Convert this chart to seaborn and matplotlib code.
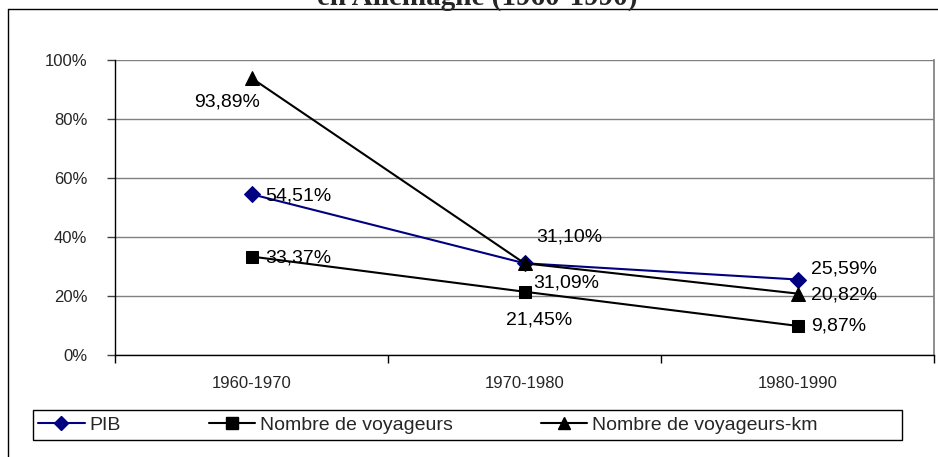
import matplotlib
matplotlib.use("Agg")
import matplotlib.pyplot as plt
from matplotlib.lines import Line2D
from matplotlib.patches import Rectangle
from matplotlib.ticker import FixedLocator, PercentFormatter
import numpy as np
import pandas as pd
import seaborn as sns

# data
periodes = ["1960-1970", "1970-1980", "1980-1990"]
series = ["PIB", "Nombre de voyageurs", "Nombre de voyageurs-km"]
pib = [54.51, 31.10, 25.59]
voyageurs = [33.37, 21.45, 9.87]
voyageurs_km = [93.89, 31.09, 20.82]
titre = "en Allemagne (1960-1990)"

# label offsets in pixels (dx, dy) for each point
offsets = {
    "PIB": [(14, -2), (12, 26), (14, 11)],
    "Nombre de voyageurs": [(14, -1), (15, -28), (14, 0)],
    "Nombre de voyageurs-km": [(-24, -24), (9, -20), (14, -1)],
}
label_ha = {
    "PIB": ["left", "left", "left"],
    "Nombre de voyageurs": ["left", "center", "left"],
    "Nombre de voyageurs-km": ["center", "left", "left"],
}

styles = {
    "PIB": dict(color="#000080", marker="D", markersize=8),
    "Nombre de voyageurs": dict(color="black", marker="s", markersize=9),
    "Nombre de voyageurs-km": dict(color="black", marker="^", markersize=10),
}


def main():
    sns.set_theme(style="white")
    plt.rcParams["font.family"] = ["Liberation Sans", "DejaVu Sans"]

    df = pd.DataFrame(
        {
            "periode": periodes * 3,
            "x": list(range(len(periodes))) * 3,
            "serie": np.repeat(series, len(periodes)),
            "valeur": pib + voyageurs + voyageurs_km,
        }
    )

    fig = plt.figure(figsize=(9.38, 4.57), dpi=100)
    ax = fig.add_axes([115 / 938, 1 - 355 / 457, 819 / 938, 295 / 457])

    for s in series:
        sub = df[df["serie"] == s]
        st = styles[s]
        sns.lineplot(
            data=sub, x="x", y="valeur", ax=ax, color=st["color"],
            marker=st["marker"], markersize=st["markersize"],
            markeredgecolor=st["color"], linewidth=1.5, legend=False,
        )
        for i, (xv, yv) in enumerate(zip(sub["x"], sub["valeur"])):
            ax.annotate(
                f"{yv:.2f}%".replace(".", ","), (xv, yv),
                xytext=offsets[s][i], textcoords="offset pixels",
                ha=label_ha[s][i], va="center", fontsize=14, color="black",
            )

    ax.set_xlim(-0.5, 2.5)
    ax.set_ylim(0, 100)
    ax.set_yticks(np.arange(0, 101, 20))
    ax.yaxis.set_major_formatter(PercentFormatter(decimals=0))
    ax.set_xticks(range(len(periodes)))
    ax.set_xticklabels(periodes)
    ax.xaxis.set_minor_locator(FixedLocator([-0.5, 0.5, 1.5, 2.5]))
    ax.tick_params(axis="x", which="major", length=0, pad=15, labelsize=12)
    ax.tick_params(axis="x", which="minor", length=6, width=1, color="black",
                   direction="out", bottom=True)
    ax.tick_params(axis="y", length=6, width=1, color="#404040", direction="out",
                   left=True, labelsize=12, pad=14)
    ax.set_xlabel("")
    ax.set_ylabel("")
    ax.grid(axis="y", color="#808080", linewidth=1)
    ax.set_axisbelow(True)
    for side in ["left", "bottom"]:
        ax.spines[side].set_color("black")
        ax.spines[side].set_linewidth(1)
    ax.spines["right"].set_color("#808080")
    ax.spines["top"].set_visible(False)

    handles = [
        Line2D([], [], color=styles[s]["color"], marker=styles[s]["marker"],
               markersize=styles[s]["markersize"] * 0.9, linewidth=1.5)
        for s in series
    ]
    fig.legend(
        handles, series, loc="center left", ncol=3,
        bbox_to_anchor=(38 / 938, 1 - 425 / 457),
        frameon=False, fontsize=14, handlelength=2.4,
        handletextpad=0.26, columnspacing=4.5, borderpad=0, borderaxespad=0,
    )
    # legend box is wider than its entries in the reference
    fig.add_artist(Rectangle((33 / 938, 1 - 440 / 457), 869 / 938, 30 / 457,
                             fill=False, edgecolor="black", linewidth=1,
                             transform=fig.transFigure))

    # outer chart frame (top and left edges visible)
    fig.add_artist(Line2D([8 / 938, 1], [1 - 9 / 457, 1 - 9 / 457],
                          color="black", linewidth=1, transform=fig.transFigure))
    fig.add_artist(Line2D([8 / 938, 8 / 938], [0, 1 - 9 / 457],
                          color="black", linewidth=1, transform=fig.transFigure))

    fig.text(477 / 938, 1 - 5 / 457, titre, ha="center", va="baseline",
             fontsize=21, fontweight="bold", family="Liberation Serif")

    fig.savefig("out.png", dpi=100)


if __name__ == "__main__":
    main()
